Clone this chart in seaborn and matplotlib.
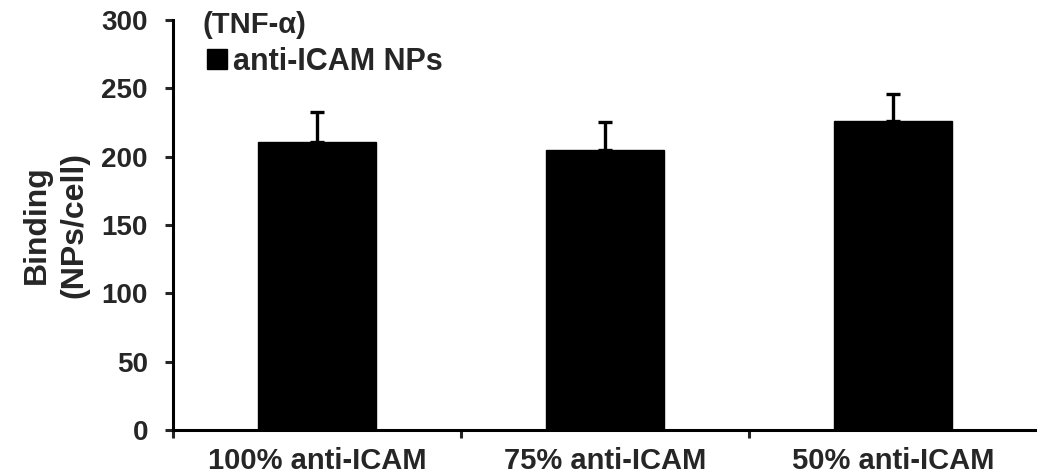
import matplotlib
matplotlib.use("Agg")
import matplotlib.pyplot as plt
import seaborn as sns
import numpy as np
import pandas as pd
from matplotlib.patches import Patch

categories = ["100% anti-ICAM", "75% anti-ICAM", "50% anti-ICAM"]
binding = [210.4, 204.8, 226.3]
sem_upper = [22.6, 20.7, 19.5]
yticks = [0, 50, 100, 150, 200, 250, 300]

sns.set_theme(style="white")
plt.rcParams['font.family'] = ['Liberation Sans', 'DejaVu Sans']
plt.rcParams['font.weight'] = 'bold'

df = pd.DataFrame({"cond": categories, "binding": binding})

fig = plt.figure(figsize=(10.37, 4.75), dpi=100)
ax = fig.add_axes([0.1668, 0.0947, 0.8332, 0.8633])

sns.barplot(data=df, x="cond", y="binding", order=categories, color="black",
            width=0.41, errorbar=None, ax=ax, saturation=1, edgecolor="black")
xs = np.arange(len(categories))
ax.errorbar(xs, binding, yerr=[np.zeros(len(binding)), sem_upper], fmt="none",
            ecolor="black", elinewidth=2.4, capsize=4.7, capthick=2.4)

ax.set_xlim(-0.5, 2.5)
ax.set_ylim(0, 300)
ax.set_yticks(yticks)
ax.set_yticklabels([str(t) for t in yticks], fontsize=20, fontweight="bold")
ax.tick_params(axis="y", direction="out", length=6, width=2.2, pad=12, left=True)

ax.set_xticks([-0.5, 0.5, 1.5])
ax.set_xticklabels([])
ax.set_xticks(xs, minor=True)
ax.set_xticklabels(categories, minor=True, fontsize=21, fontweight="bold")
ax.tick_params(axis="x", which="major", direction="out", length=6, width=2.2, bottom=True)
ax.tick_params(axis="x", which="minor", length=0, pad=12)
ax.set_xlabel("")

ax.set_ylabel("Binding\n(NPs/cell)", fontsize=23, fontweight="bold", linespacing=1.3)
ax.yaxis.set_label_coords(-0.097, 0.5)

for s in ["top", "right"]:
    ax.spines[s].set_visible(False)
for s in ["left", "bottom"]:
    ax.spines[s].set_linewidth(2.2)
    ax.spines[s].set_color("black")

fig.text(203 / 1037, 1 - 25 / 475, "(TNF-\u03b1)", fontsize=21, fontweight="bold",
         va="center", ha="left")
leg = ax.legend(handles=[Patch(facecolor="black", edgecolor="black")],
                labels=["anti-ICAM NPs"], loc="center left",
                bbox_to_anchor=(207 / 1037, 1 - 62 / 475), bbox_transform=fig.transFigure,
                frameon=False, handlelength=0.65, handleheight=0.65, handletextpad=0.2,
                borderpad=0, borderaxespad=0,
                prop={"size": 22, "weight": "bold"})

fig.savefig("out.png", dpi=100)
